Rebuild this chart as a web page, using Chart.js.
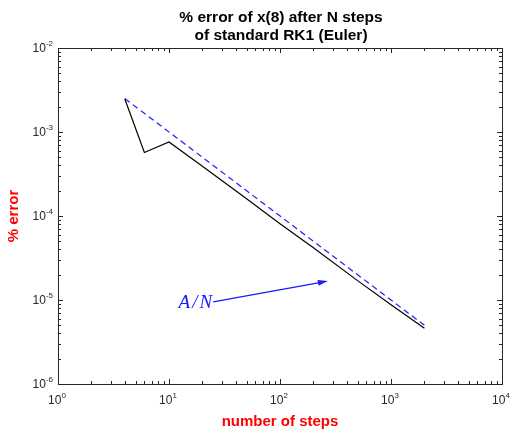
<!DOCTYPE html>
<html>
<head>
<meta charset="utf-8">
<style>
  html, body { margin: 0; padding: 0; background: #fff; }
</style>
<script src="https://cdn.jsdelivr.net/npm/chart.js@4/dist/chart.umd.min.js"></script>
</head>
<body>
<canvas id="main-chart" width="512" height="429"></canvas>
<script>
// data
const nSteps = [4, 6, 10, 20, 50, 100, 200, 500, 1000, 2000];
const pctError = [2.47e-3, 5.7e-4, 7.6e-4, 3.9e-4, 1.6e-4, 8.1e-5, 4.2e-5, 1.7e-5, 8.8e-6, 4.6e-6];
const refN = [4, 2000];
const refError = [2.5e-3, 5e-6];   // A/N with A = 0.01
const xDecades = [0, 1, 2, 3, 4];
const yDecades = [-6, -5, -4, -3, -2];
const titleLines = ['% error of x(8) after N steps', 'of standard RK1 (Euler)'];
const arrowLabel = ['A', '/', 'N'];
const arrowFrom = { x: 25, y: 9.5e-6 };
const arrowTo = { x: 270, y: 1.68e-5 };

// all 1..9 x 10^n tick values between the decades
const logTicks = decs => {
  const out = [];
  for (let i = 0; i < decs.length; i++) {
    const base = Math.pow(10, decs[i]);
    if (i === decs.length - 1) { out.push({ value: base, major: true }); break; }
    for (let m = 1; m <= 9; m++) out.push({ value: m * base, major: m === 1 });
  }
  return out;
};

const FONT = 'Liberation Sans, Arial, sans-serif';
const AXIS_COLOR = '#262626';
const BLUE = '#1a1aff';

// "10" with a raised exponent, anchored by align ('center' or 'right')
function powerLabel(ctx, exp, x, y, align) {
  ctx.font = '12px ' + FONT;
  const wBase = ctx.measureText('10').width;
  ctx.font = '8px ' + FONT;
  const wExp = ctx.measureText(String(exp)).width;
  const total = wBase + wExp;
  const left = align === 'right' ? x - total : x - total / 2;
  ctx.textAlign = 'left';
  ctx.textBaseline = 'middle';
  ctx.font = '12px ' + FONT;
  ctx.fillText('10', left, y);
  ctx.font = '8px ' + FONT;
  ctx.fillText(String(exp), left + wBase, y - 5);
}

const boxPlugin = {
  id: 'box',
  afterDraw(chart) {
    const { ctx, chartArea: a, scales } = chart;
    ctx.save();
    ctx.strokeStyle = AXIS_COLOR;
    ctx.lineWidth = 1;
    ctx.strokeRect(Math.round(a.left) + 0.5, Math.round(a.top) + 0.5,
      Math.round(a.right - a.left), Math.round(a.bottom - a.top));
    ctx.beginPath();
    scales.x.ticks.forEach(t => {
      const px = Math.round(scales.x.getPixelForValue(t.value)) + 0.5;
      const len = t.major ? 5 : 3;
      ctx.moveTo(px, a.bottom); ctx.lineTo(px, a.bottom - len);
      ctx.moveTo(px, a.top); ctx.lineTo(px, a.top + len);
    });
    scales.y.ticks.forEach(t => {
      const py = Math.round(scales.y.getPixelForValue(t.value)) + 0.5;
      const len = t.major ? 5 : 3;
      ctx.moveTo(a.left, py); ctx.lineTo(a.left + len, py);
      ctx.moveTo(a.right, py); ctx.lineTo(a.right - len, py);
    });
    ctx.stroke();

    // tick labels
    ctx.fillStyle = AXIS_COLOR;
    scales.x.ticks.filter(t => t.major).forEach(t => {
      powerLabel(ctx, Math.round(Math.log10(t.value)), scales.x.getPixelForValue(t.value) - 1, a.bottom + 17, 'center');
    });
    scales.y.ticks.filter(t => t.major).forEach(t => {
      powerLabel(ctx, Math.round(Math.log10(t.value)), a.left - 5, scales.y.getPixelForValue(t.value) + 1, 'right');
    });

    // title
    ctx.fillStyle = '#000';
    ctx.font = 'bold 15.5px ' + FONT;
    ctx.textAlign = 'center';
    ctx.textBaseline = 'alphabetic';
    const cx = (a.left + a.right) / 2 + 1;
    ctx.fillText(titleLines[0], cx, 21.5);
    ctx.fillText(titleLines[1], cx, 39.5);

    // A/N arrow annotation
    const x0 = scales.x.getPixelForValue(arrowFrom.x);
    const y0 = scales.y.getPixelForValue(arrowFrom.y);
    const x1 = scales.x.getPixelForValue(arrowTo.x);
    const y1 = scales.y.getPixelForValue(arrowTo.y);
    const ang = Math.atan2(y1 - y0, x1 - x0);
    ctx.strokeStyle = BLUE;
    ctx.fillStyle = BLUE;
    ctx.lineWidth = 1.2;
    ctx.beginPath();
    ctx.moveTo(x0, y0);
    ctx.lineTo(x1 - 7 * Math.cos(ang), y1 - 7 * Math.sin(ang));
    ctx.stroke();
    ctx.beginPath();
    ctx.moveTo(x1, y1);
    ctx.lineTo(x1 - 10 * Math.cos(ang) + 3 * Math.sin(ang), y1 - 10 * Math.sin(ang) - 3 * Math.cos(ang));
    ctx.lineTo(x1 - 10 * Math.cos(ang) - 3 * Math.sin(ang), y1 - 10 * Math.sin(ang) + 3 * Math.cos(ang));
    ctx.closePath();
    ctx.fill();

    // math-style label: glyphs spaced like TeX
    ctx.font = 'italic 19px Liberation Serif, Times New Roman, serif';
    ctx.textAlign = 'left';
    ctx.textBaseline = 'alphabetic';
    const gaps = [2, 2];
    const widths = arrowLabel.map(g => ctx.measureText(g).width);
    const totalW = widths.reduce((s, w) => s + w, 0) + gaps[0] + gaps[1];
    let gx = x0 - 1 - totalW;
    arrowLabel.forEach((g, i) => {
      ctx.fillText(g, gx, y0 + 6);
      gx += widths[i] + (gaps[i] || 0);
    });
    ctx.restore();
  }
};

document.addEventListener('DOMContentLoaded', () => {
  const canvas1 = document.getElementById('main-chart');

  new Chart(canvas1, {
    type: 'line',
    data: {
      datasets: [{
        data: nSteps.map((n, i) => ({ x: n, y: pctError[i] })),
        borderColor: '#000',
        borderWidth: 1.2,
        pointRadius: 0,
        fill: false,
        tension: 0
      }, {
        data: refN.map((n, i) => ({ x: n, y: refError[i] })),
        borderColor: BLUE,
        borderWidth: 1.2,
        borderDash: [6, 4],
        pointRadius: 0,
        fill: false
      }]
    },
    options: {
      responsive: false,
      animation: false,
      layout: { padding: { top: 48, right: 10, left: 0, bottom: 0 } },
      plugins: {
        legend: { display: false },
        title: { display: false },
        tooltip: { enabled: false }
      },
      scales: {
        x: {
          type: 'logarithmic',
          min: Math.pow(10, xDecades[0]),
          max: Math.pow(10, xDecades[xDecades.length - 1]),
          afterBuildTicks: s => { s.ticks = logTicks(xDecades); },
          afterFit: s => { s.height = 45; s.paddingLeft = 0; s.paddingRight = 0; },
          grid: { display: false, drawTicks: false },
          border: { display: false },
          ticks: { display: false, autoSkip: false, maxRotation: 0 },
          title: {
            display: true,
            text: 'number of steps',
            color: '#ff0000',
            font: { family: FONT, size: 15, weight: 'bold' },
            padding: { top: 0, bottom: -2 }
          }
        },
        y: {
          type: 'logarithmic',
          min: Math.pow(10, yDecades[0]),
          max: Math.pow(10, yDecades[yDecades.length - 1]),
          afterBuildTicks: s => { s.ticks = logTicks(yDecades); },
          afterFit: s => { s.width = 58; s.paddingTop = 0; s.paddingBottom = 0; },
          grid: { display: false, drawTicks: false },
          border: { display: false },
          ticks: { display: false, autoSkip: false },
          title: {
            display: true,
            text: '% error',
            color: '#ff0000',
            font: { family: FONT, size: 15, weight: 'bold' },
            padding: { top: 5, bottom: 0 }
          }
        }
      }
    },
    plugins: [boxPlugin]
  });
});
</script>
</body>
</html>
